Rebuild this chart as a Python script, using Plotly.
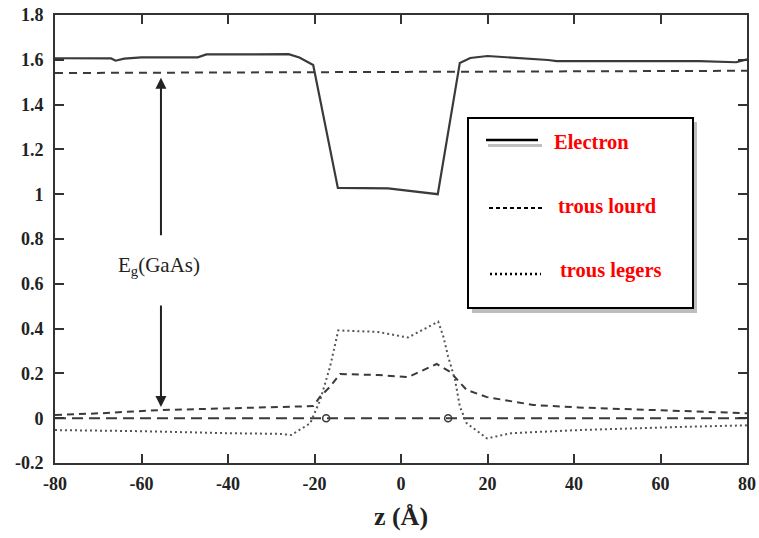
import plotly.graph_objects as go

# ---------------- data ----------------
z_electron = [-80, -67, -66, -64, -60, -47, -45, -26, -23.5, -20.3, -14.6, -3, 8.5, 13.6, 16, 20, 34, 36, 69, 77.5, 80]
v_electron = [1.607, 1.606, 1.596, 1.605, 1.611, 1.611, 1.624, 1.625, 1.61, 1.577, 1.028, 1.026, 1.0, 1.586, 1.608, 1.617, 1.599, 1.594, 1.594, 1.589, 1.602]

z_gaas_cb = [-80, 80]
v_gaas_cb = [1.541, 1.551]

z_heavy = [-80, -69.5, -56, -40.6, -28, -20.3, -18.7, -16.4, -14.1, -10, -5.3, 1.6, 8.25, 11.3, 15.2, 19.9, 30.6, 41, 64, 78.6, 80]
v_heavy = [0.014, 0.022, 0.036, 0.044, 0.05, 0.054, 0.096, 0.141, 0.197, 0.196, 0.193, 0.183, 0.242, 0.208, 0.126, 0.094, 0.059, 0.048, 0.033, 0.024, 0.022]

z_light = [-80, -60, -40, -28, -25.4, -21, -18.7, -16.4, -14.5, -10, -5.3, 1.6, 8.6, 9.8, 10.9, 12.5, 13.6, 15.2, 18.3, 19.9, 25.5, 41, 66.4, 80]
v_light = [-0.053, -0.058, -0.067, -0.07, -0.075, -0.023, 0.08, 0.23, 0.392, 0.39, 0.385, 0.36, 0.431, 0.364, 0.275, 0.171, 0.052, -0.023, -0.067, -0.09, -0.067, -0.053, -0.038, -0.032]

z_zero = [-80, 80]
v_zero = [0, 0]

z_circles = [-17.3, 10.9]
v_circles = [0, 0]

x_ticks = [-80, -60, -40, -20, 0, 20, 40, 60, 80]
x_ticktext = ["-80", "-60", "-40", "-20", "0", "20", "40", "60", "80"]
y_ticks = [-0.2, 0, 0.2, 0.4, 0.6, 0.8, 1.0, 1.2, 1.4, 1.6, 1.8]
y_ticktext = ["-0.2", "0", "0.2", "0.4", "0.6", "0.8", "1", "1.2", "1.4", "1.6", "1.8"]

legend_labels = ["Electron", "trous lourd", "trous legers"]

# Eg(GaAs) arrow (data coordinates)
arrow_z = -55.5
arrow_top = 1.52
arrow_top_tail = 0.81
arrow_bottom = 0.05
arrow_bottom_tail = 0.51
eg_label_z = -56.0
eg_label_v = 0.68

# ---------------- styling ----------------
LINE = "#3a3a3a"
AX = "#333333"
SERIF = "Liberation Serif"

W, H = 759, 538
ML, MR, MT, MB = 55, 12, 15, 75
PW, PH = W - ML - MR, H - MT - MB


def px(xp):
    return (xp - ML) / PW


def py(yp):
    return (H - MB - yp) / PH


fig = go.Figure()
fig.add_trace(go.Scatter(x=z_gaas_cb, y=v_gaas_cb, mode="lines",
                         line=dict(color=LINE, width=2, dash="8px,6px"), hoverinfo="skip"))
fig.add_trace(go.Scatter(x=z_zero, y=v_zero, mode="lines",
                         line=dict(color=LINE, width=2, dash="11px,6px"), hoverinfo="skip"))
fig.add_trace(go.Scatter(x=z_electron, y=v_electron, mode="lines", name=legend_labels[0],
                         line=dict(color=LINE, width=2.2)))
fig.add_trace(go.Scatter(x=z_heavy, y=v_heavy, mode="lines", name=legend_labels[1],
                         line=dict(color=LINE, width=2, dash="7px,5px")))
fig.add_trace(go.Scatter(x=z_light, y=v_light, mode="lines", name=legend_labels[2],
                         line=dict(color="#555555", width=2, dash="2px,3px")))
fig.add_trace(go.Scatter(x=z_circles, y=v_circles, mode="markers",
                         marker=dict(symbol="circle-open", size=7, color=LINE, line=dict(width=1.5))))

# ---------------- custom legend ----------------
shapes = []
# shadow
shapes.append(dict(type="rect", xref="paper", yref="paper", x0=px(472), x1=px(697), y0=py(313), y1=py(122),
                   fillcolor="#bdbdbd", line=dict(width=0), layer="above"))
shapes.append(dict(type="rect", xref="paper", yref="paper", x0=px(468), x1=px(693), y0=py(308), y1=py(118),
                   fillcolor="white", line=dict(color="black", width=2), layer="above"))
# samples
shapes.append(dict(type="line", xref="paper", yref="paper", x0=px(488), x1=px(542), y0=py(145.5), y1=py(145.5),
                   line=dict(color="#c0c0c0", width=3), layer="above"))
shapes.append(dict(type="line", xref="paper", yref="paper", x0=px(486), x1=px(538), y0=py(140), y1=py(140),
                   line=dict(color="black", width=2.5), layer="above"))
shapes.append(dict(type="line", xref="paper", yref="paper", x0=px(489), x1=px(544), y0=py(208), y1=py(208),
                   line=dict(color="black", width=2, dash="4px,3px"), layer="above"))
shapes.append(dict(type="line", xref="paper", yref="paper", x0=px(490), x1=px(541), y0=py(274), y1=py(274),
                   line=dict(color="black", width=2.5, dash="2px,3px"), layer="above"))

annotations = []
legend_pos = [(552, 142), (556, 206), (558, 270)]
for lab, (lx, ly) in zip(legend_labels, legend_pos):
    annotations.append(dict(text=lab, xref="paper", yref="paper", x=px(lx), y=py(ly),
                            xanchor="left", yanchor="middle", showarrow=False,
                            font=dict(family=SERIF, size=20.5, color="#ff0000", weight="bold")))

# Eg arrows
annotations.append(dict(x=arrow_z, y=arrow_top, ax=arrow_z, ay=arrow_top_tail, xref="x", yref="y",
                        axref="x", ayref="y", text="", showarrow=True, arrowhead=2, arrowsize=1.1,
                        arrowwidth=2, arrowcolor="#222", standoff=0))
annotations.append(dict(x=arrow_z, y=arrow_bottom, ax=arrow_z, ay=arrow_bottom_tail, xref="x", yref="y",
                        axref="x", ayref="y", text="", showarrow=True, arrowhead=2, arrowsize=1.1,
                        arrowwidth=2, arrowcolor="#222", standoff=0))
annotations.append(dict(x=eg_label_z, y=eg_label_v, xref="x", yref="y", text="E<sub>g</sub>(GaAs)",
                        showarrow=False, xanchor="center", yanchor="middle",
                        font=dict(family=SERIF, size=21, color="#222")))

axis_common = dict(showgrid=False, zeroline=False, showline=True, linewidth=2, linecolor=AX,
                   mirror="ticks", ticks="inside", ticklen=9, tickwidth=2, tickcolor=AX,
                   automargin=False,
                   tickfont=dict(family=SERIF, size=18, color="#222", weight="bold"))

fig.update_layout(
    width=W, height=H, margin=dict(l=ML, r=MR, t=MT, b=MB),
    paper_bgcolor="white", plot_bgcolor="white", showlegend=False,
    xaxis=dict(range=[-80, 80], tickmode="array", tickvals=x_ticks, ticktext=x_ticktext,
               ticklabelstandoff=3,
               title=dict(text="z (Å)", font=dict(family=SERIF, size=26, color="#222", weight="bold"), standoff=14),
               **axis_common),
    yaxis=dict(range=[-0.2, 1.8], tickmode="array", tickvals=y_ticks, ticktext=y_ticktext,
               ticklabelstandoff=6, **axis_common),
    shapes=shapes, annotations=annotations,
)

fig.write_html("out.html")
